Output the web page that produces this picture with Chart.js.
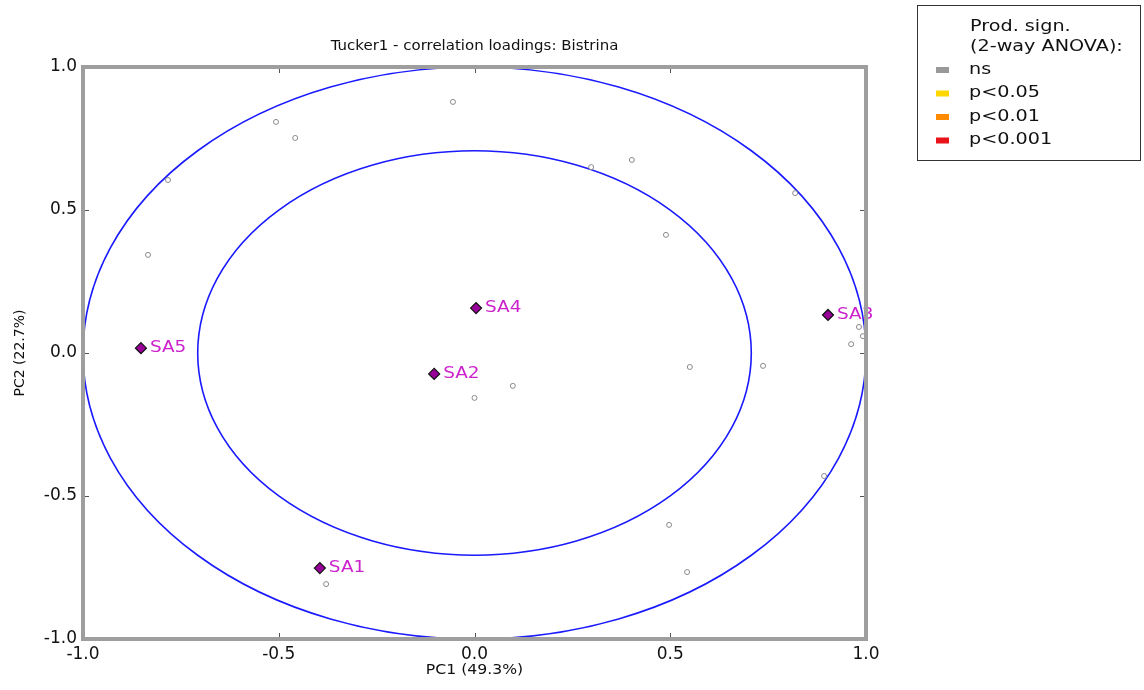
<!DOCTYPE html>
<html>
<head>
<meta charset="utf-8">
<script src="https://cdn.jsdelivr.net/npm/chart.js@4/dist/chart.umd.min.js"></script>
<style>
  html, body { margin: 0; padding: 0; background: #fff; }
  #wrap { position: relative; width: 1144px; height: 690px; }
</style>
</head>
<body>
<div id="wrap"><canvas id="loadings" width="1144" height="690"></canvas></div>
<script>
// samples (diamonds)
const sampleNames = ["SA1", "SA2", "SA3", "SA4", "SA5"];
const sampleX = [-0.395, -0.103, 0.903, 0.004, -0.852];
const sampleY = [-0.752, -0.073, 0.133, 0.157, 0.017];

// attribute loadings (small grey circles, all ns)
const varX = [-0.055, -0.507, -0.458, -0.783, -0.834, 0.298, 0.402, 0.489, 0.819, 0.982,
              0.992, 0.962, 0.737, 0.550, 0.098, 0.000, 0.893, 0.497, 0.543, -0.379];
const varY = [0.878, 0.808, 0.752, 0.605, 0.343, 0.650, 0.675, 0.413, 0.559, 0.091,
              0.059, 0.031, -0.045, -0.049, -0.115, -0.157, -0.430, -0.601, -0.766, -0.808];

const tickValues = [-1.0, -0.5, 0.0, 0.5, 1.0];
const circleRadii = [1.0, 0.707];

const legendTitle = ["Prod. sign.", "(2-way ANOVA):"];
const legendLabels = ["ns", "p<0.05", "p<0.01", "p<0.001"];
const legendColors = ["#999999", "#ffd700", "#ff8c00", "#e8141a"];

const FONT = "'DejaVu Sans', sans-serif";

// the original picture is a bit wider than tall, so text is stretched sideways
function wideText(ctx, txt, x, y, sx, align) {
  ctx.save();
  ctx.translate(x, y);
  ctx.scale(sx, 1);
  ctx.textAlign = align || "left";
  ctx.fillText(txt, 0, 0);
  ctx.restore();
}

// circles, sample labels, frame, titles and legend
const extras = {
  id: "extras",
  beforeDatasetsDraw(chart) {
    const { ctx, chartArea: a, scales: { x, y } } = chart;
    ctx.save();
    ctx.beginPath();
    ctx.rect(a.left, a.top, a.right - a.left, a.bottom - a.top);
    ctx.clip();
    ctx.strokeStyle = "#1a1aff";
    ctx.lineWidth = 1.6;
    const cx = x.getPixelForValue(0), cy = y.getPixelForValue(0);
    circleRadii.forEach((r) => {
      const rx = x.getPixelForValue(r) - cx;
      const ry = cy - y.getPixelForValue(r);
      ctx.beginPath();
      ctx.ellipse(cx, cy, rx, ry, 0, 0, Math.PI * 2);
      ctx.stroke();
    });
    ctx.restore();
  },
  afterDatasetsDraw(chart) {
    const { ctx } = chart;
    const meta = chart.getDatasetMeta(1);
    ctx.save();
    ctx.font = "16px " + FONT;
    ctx.fillStyle = "#cc22cc";
    ctx.textBaseline = "middle";
    meta.data.forEach((pt, i) => {
      wideText(ctx, sampleNames[i], pt.x + 9, pt.y, 1.15);
    });
    ctx.restore();
  },
  afterDraw(chart) {
    const { ctx, chartArea: a, scales: { x, y } } = chart;
    ctx.save();
    // small inward ticks
    ctx.strokeStyle = "#555";
    ctx.lineWidth = 1;
    tickValues.forEach((v) => {
      const px = Math.round(x.getPixelForValue(v)) + 0.5;
      const py = Math.round(y.getPixelForValue(v)) + 0.5;
      ctx.beginPath();
      ctx.moveTo(px, a.top); ctx.lineTo(px, a.top + 6);
      ctx.moveTo(px, a.bottom); ctx.lineTo(px, a.bottom - 6);
      ctx.moveTo(a.left, py); ctx.lineTo(a.left + 6, py);
      ctx.moveTo(a.right, py); ctx.lineTo(a.right - 6, py);
      ctx.stroke();
    });
    // frame
    ctx.strokeStyle = "#9e9e9e";
    ctx.lineWidth = 4;
    ctx.strokeRect(a.left, a.top, a.right - a.left, a.bottom - a.top);

    // title and axis titles
    ctx.fillStyle = "#111";
    ctx.textBaseline = "middle";
    ctx.font = "14px " + FONT;
    const mid = (a.left + a.right) / 2;
    wideText(ctx, "Tucker1 - correlation loadings: Bistrina", mid, 46, 1.07, "center");
    wideText(ctx, "PC1 (49.3%)", mid, 670, 1.12, "center");
    ctx.save();
    ctx.translate(20, (a.top + a.bottom) / 2);
    ctx.rotate(-Math.PI / 2);
    ctx.textAlign = "center";
    ctx.fillText("PC2 (22.7%)", 0, 0);
    ctx.restore();

    // legend
    ctx.strokeStyle = "#333";
    ctx.lineWidth = 1;
    ctx.strokeRect(917.5, 5.5, 223, 155);
    ctx.font = "15px " + FONT;
    ctx.fillStyle = "#111";
    wideText(ctx, legendTitle[0], 970, 27, 1.28);
    wideText(ctx, legendTitle[1], 970, 47, 1.28);
    legendLabels.forEach((lab, i) => {
      const ly = 70 + i * 23.5;
      ctx.fillStyle = legendColors[i];
      ctx.fillRect(936, ly - 3, 13, 6);
      ctx.fillStyle = "#111";
      wideText(ctx, lab, 969, ly, 1.28);
    });
    ctx.restore();
  }
};

const tickFont = { family: FONT, size: 17 };

new Chart(document.getElementById("loadings"), {
  type: "scatter",
  data: {
    datasets: [
      {
        label: "attributes",
        data: varX.map((v, i) => ({ x: v, y: varY[i] })),
        pointStyle: "circle",
        pointRadius: 2.5,
        pointBackgroundColor: "#ffffff",
        pointBorderColor: "#8a8a8a",
        pointBorderWidth: 1,
        clip: false
      },
      {
        label: "samples",
        data: sampleX.map((v, i) => ({ x: v, y: sampleY[i] })),
        pointStyle: "rectRot",
        pointRadius: 5.5,
        pointBackgroundColor: "#990099",
        pointBorderColor: "#111",
        pointBorderWidth: 1.2,
        clip: false
      }
    ]
  },
  options: {
    responsive: false,
    animation: false,
    events: [],
    layout: { padding: { top: 67, right: 278, left: 23, bottom: 0 } },
    plugins: {
      legend: { display: false },
      title: { display: false },
      tooltip: { enabled: false }
    },
    scales: {
      x: {
        type: "linear",
        min: -1, max: 1,
        afterBuildTicks: (s) => { s.ticks = tickValues.map((v) => ({ value: v })); },
        afterFit: (s) => { s.height = 51; },
        grid: { display: false },
        border: { display: false },
        ticks: {
          font: tickFont, color: "#111", padding: -3,
          maxRotation: 0,
          callback: (v) => v.toFixed(1)
        }
      },
      y: {
        type: "linear",
        min: -1, max: 1,
        afterBuildTicks: (s) => { s.ticks = tickValues.map((v) => ({ value: v })); },
        afterFit: (s) => { s.width = 60; },
        grid: { display: false },
        border: { display: false },
        ticks: {
          font: tickFont, color: "#111", padding: -2,
          callback: (v) => v.toFixed(1)
        }
      }
    }
  },
  plugins: [extras]
});
</script>
</body>
</html>
